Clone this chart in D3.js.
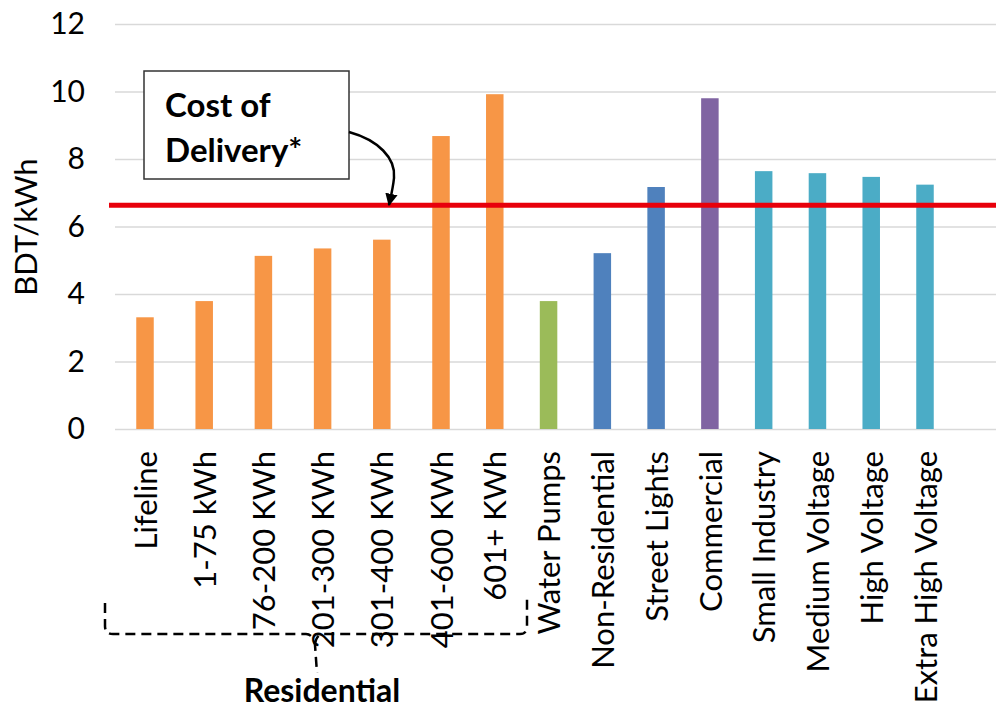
<!DOCTYPE html>
<html>
<head>
<meta charset="utf-8">
<script src="https://cdn.jsdelivr.net/npm/d3@7"></script>
<style>
  body { margin: 0; background: #fff; }
  svg text { font-family: Lato, "Open Sans", sans-serif; fill: #000; }
</style>
</head>
<body>
<div class="chart"></div>
<script>
// tariff categories and their rates (BDT/kWh)
var categories = ["Lifeline", "1-75 kWh", "76-200 KWh", "201-300 KWh", "301-400 KWh", "401-600 KWh", "601+ KWh",
  "Water Pumps", "Non-Residential", "Street Lights", "Commercial", "Small Industry", "Medium Voltage", "High Voltage", "Extra High Voltage"];
var rates = [3.31, 3.79, 5.13, 5.35, 5.61, 8.68, 9.92, 3.79, 5.21, 7.17, 9.80, 7.64, 7.58, 7.47, 7.24];
var groups = ["res", "res", "res", "res", "res", "res", "res", "agri", "nonres", "nonres", "com", "ind", "ind", "ind", "ind"];
var yTicks = [0, 2, 4, 6, 8, 10, 12];
var costOfDelivery = 6.63;

var colors = { res: "#F79646", agri: "#9BBB59", nonres: "#4F81BD", com: "#8064A2", ind: "#4BACC6" };

var w = 996, h = 711;

var svg = d3.select(".chart").append("svg")
  .attr("width", w)
  .attr("height", h);

// y scale: 0 -> 429px, 12 -> 24px
var y = d3.scaleLinear().domain([0, 12]).range([429, 24]);
// category positions (residential slots are a bit wider in the original)
var x = d3.scaleLinear().domain([0, 5, 14]).range([145, 441, 925]);

// gridlines + tick labels
var yAxis = svg.append("g")
  .attr("transform", "translate(115,0)")
  .call(d3.axisLeft(y).tickValues(yTicks).tickFormat(d3.format("d")).tickSize(-(w - 115)).tickPadding(30));
yAxis.select(".domain").remove();
yAxis.selectAll(".tick line").attr("stroke", "#D9D9D9").attr("stroke-width", 1.5);
yAxis.selectAll(".tick text").style("font-size", "30px").attr("fill", "#000");

// y title
svg.append("text")
  .attr("transform", "translate(37,227) rotate(-90)")
  .attr("text-anchor", "middle")
  .style("font-size", "31px")
  .text("BDT/kWh");

// bars
var bw = 17.5;
svg.selectAll("rect.bar")
  .data(rates)
  .enter()
  .append("rect")
  .attr("class", "bar")
  .attr("x", function(d, i) { return x(i) - bw / 2; })
  .attr("y", function(d) { return y(d); })
  .attr("width", bw)
  .attr("height", function(d) { return y(0) - y(d); })
  .attr("fill", function(d, i) { return colors[groups[i]]; });

// category labels
var xAxis = svg.append("g")
  .attr("transform", "translate(0," + y(0) + ")")
  .call(d3.axisBottom(x).tickValues(d3.range(categories.length)).tickFormat(function(i) { return categories[i]; }).tickSize(0));
xAxis.select(".domain").remove();
xAxis.selectAll(".tick text")
  .attr("transform", "rotate(-90)")
  .attr("x", -22)
  .attr("y", 0)
  .attr("dy", "0.36em")
  .attr("text-anchor", "end")
  .style("font-size", "31px")
  .attr("fill", "#000");

// cost of delivery line
svg.append("line")
  .attr("x1", 109).attr("x2", w)
  .attr("y1", y(costOfDelivery)).attr("y2", y(costOfDelivery))
  .attr("stroke", "#E8000B")
  .attr("stroke-width", 5);

// annotation box
svg.append("rect")
  .attr("x", 144).attr("y", 71)
  .attr("width", 205).attr("height", 108)
  .attr("fill", "#fff")
  .attr("stroke", "#333")
  .attr("stroke-width", 1.5);
svg.append("text").attr("x", 165).attr("y", 117)
  .style("font-size", "33px").style("font-weight", "bold").text("Cost of");
svg.append("text").attr("x", 165).attr("y", 162)
  .style("font-size", "33px").style("font-weight", "bold").text("Delivery*");

// arrow
svg.append("defs").append("marker")
  .attr("id", "head")
  .attr("viewBox", "0 0 10 10")
  .attr("refX", 9).attr("refY", 5)
  .attr("markerWidth", 5).attr("markerHeight", 5)
  .attr("orient", "auto")
  .append("path").attr("d", "M0,0 L10,5 L0,10 Z").attr("fill", "#000");
svg.append("path")
  .attr("d", "M349,132 C378,140 396,158 394,178 C393,188 391,196 389,205")
  .attr("fill", "none")
  .attr("stroke", "#000")
  .attr("stroke-width", 2.5)
  .attr("marker-end", "url(#head)");

// residential brace
svg.append("path")
  .attr("d", "M105,603 L105,626 Q105,634 113,634 L306,634 Q313,634 315,645 L317,673 M315,645 Q316,634 324,634 L520,634 Q527,634 527,626 L527,599")
  .attr("fill", "none")
  .attr("stroke", "#000")
  .attr("stroke-width", 2.5)
  .attr("stroke-dasharray", "10,6");
svg.append("text")
  .attr("x", 322).attr("y", 702)
  .attr("text-anchor", "middle")
  .style("font-size", "32px").style("font-weight", "bold")
  .text("Residential");
</script>
</body>
</html>
